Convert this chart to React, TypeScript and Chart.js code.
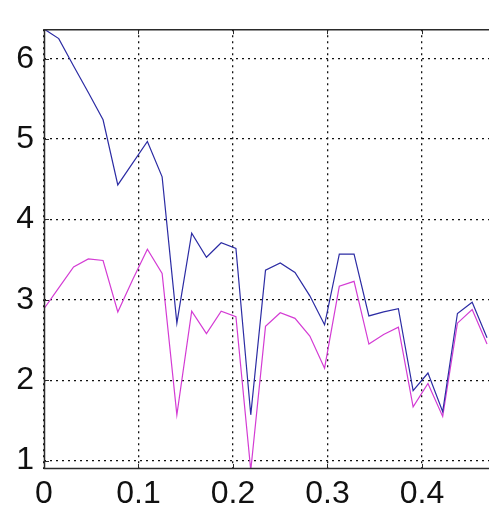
import React, { useEffect, useRef } from "react";
import { Chart, registerables } from "chart.js";

Chart.register(...registerables);

const xValues = [
  0, 0.0156, 0.0313, 0.0469, 0.0625, 0.0781, 0.0938, 0.1094, 0.125, 0.1406,
  0.1563, 0.1719, 0.1875, 0.2031, 0.2188, 0.2344, 0.25, 0.2656, 0.2813, 0.2969,
  0.3125, 0.3281, 0.3438, 0.3594, 0.375, 0.3906, 0.4063, 0.4219, 0.4375, 0.4531,
  0.4688,
];
const blueSeries = [
  6.37, 6.25, 5.91, 5.58, 5.24, 4.43, 4.7, 4.97, 4.53, 2.71,
  3.83, 3.53, 3.71, 3.64, 1.57, 3.37, 3.46, 3.34, 3.05, 2.69,
  3.57, 3.57, 2.8, 2.85, 2.89, 1.87, 2.09, 1.61, 2.83, 2.97,
  2.53,
];
const magentaSeries = [
  2.89, 3.15, 3.41, 3.51, 3.49, 2.85, 3.25, 3.63, 3.33, 1.57,
  2.86, 2.58, 2.86, 2.79, 0.88, 2.67, 2.84, 2.77, 2.55, 2.15,
  3.17, 3.23, 2.45, 2.57, 2.66, 1.67, 1.96, 1.55, 2.71, 2.88,
  2.45,
];
const xTicks = [0, 0.1, 0.2, 0.3, 0.4];
const yTicks = [1, 2, 3, 4, 5, 6];
const xRange = [0, 0.4709];
const yRange = [0.896, 6.367];

const FONT = "'Liberation Sans', Arial, Helvetica, sans-serif";

const framePlugin = {
  id: "matlabFrame",
  afterDraw(chart: any) {
    const { ctx, chartArea } = chart;
    const { left, right, top, bottom } = chartArea;
    const xs = chart.scales.x;
    const ys = chart.scales.y;
    ctx.save();
    ctx.strokeStyle = "#2a2a2a";
    ctx.lineWidth = 1;
    ctx.setLineDash([]);
    ctx.beginPath();
    for (const t of xTicks) {
      const px = Math.round(xs.getPixelForValue(t)) + 0.5;
      ctx.moveTo(px, bottom);
      ctx.lineTo(px, bottom - 5);
      ctx.moveTo(px, top);
      ctx.lineTo(px, top + 5);
    }
    for (const t of yTicks) {
      const py = Math.round(ys.getPixelForValue(t)) + 0.5;
      ctx.moveTo(left, py);
      ctx.lineTo(left + 5, py);
    }
    ctx.stroke();
    ctx.lineWidth = 1.5;
    ctx.beginPath();
    ctx.moveTo(right, top + 0.5);
    ctx.lineTo(left + 0.5, top + 0.5);
    ctx.lineTo(left + 0.5, bottom - 0.5);
    ctx.lineTo(right, bottom - 0.5);
    ctx.stroke();
    ctx.restore();
  },
};

export default function App() {
  const ref = useRef<HTMLCanvasElement | null>(null);
  useEffect(() => {
    if (!ref.current) return;
    const chart = new Chart(ref.current, {
      type: "line",
      data: {
        datasets: [
          {
            data: xValues.map((x, i) => ({ x, y: blueSeries[i] })),
            borderColor: "#2c2ca4",
            borderWidth: 1.2,
            pointRadius: 0,
            tension: 0,
            fill: false,
          },
          {
            data: xValues.map((x, i) => ({ x, y: magentaSeries[i] })),
            borderColor: "#d43cd4",
            borderWidth: 1.2,
            pointRadius: 0,
            tension: 0,
            fill: false,
          },
        ],
      },
      options: {
        animation: false,
        responsive: false,
        devicePixelRatio: 1,
        layout: { padding: { top: 12, right: 0, left: 0, bottom: 0 } },
        plugins: { legend: { display: false }, tooltip: { enabled: false } },
        scales: {
          x: {
            type: "linear",
            min: xRange[0],
            max: xRange[1],
            afterBuildTicks: (scale: any) => {
              scale.ticks = xTicks.map((v) => ({ value: v }));
            },
            afterFit: (scale: any) => {
              scale.height = 44;
            },
            ticks: {
              autoSkip: false,
              maxRotation: 0,
              padding: 6,
              color: "#111",
              font: { family: FONT, size: 32 },
              callback: (v: any) => String(Number(v)),
            },
            grid: { color: "#111", lineWidth: 1.3, drawTicks: false },
            border: { display: false, dash: [2, 4] },
          },
          y: {
            type: "linear",
            min: yRange[0],
            max: yRange[1],
            afterBuildTicks: (scale: any) => {
              scale.ticks = yTicks.map((v) => ({ value: v }));
            },
            afterFit: (scale: any) => {
              scale.width = 44;
            },
            ticks: {
              padding: 10,
              color: "#111",
              font: { family: FONT, size: 32 },
              callback: (v: any) => String(Number(v)),
            },
            grid: { color: "#111", lineWidth: 1.3, drawTicks: false },
            border: { display: false, dash: [2, 4] },
          },
        },
      },
      plugins: [framePlugin],
    } as any);
    return () => chart.destroy();
  }, []);
  return (
    <div style={{ position: "fixed", left: 0, top: 0, width: 489, height: 513, background: "#fff" }}>
      <canvas ref={ref} width={489} height={513} style={{ width: 489, height: 513, display: "block" }} />
    </div>
  );
}
